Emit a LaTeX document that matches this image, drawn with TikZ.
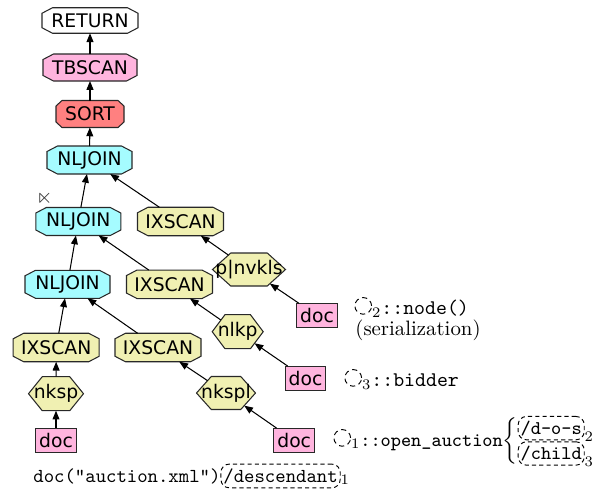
\documentclass[tikz,border=0pt]{standalone}
\usepackage{amssymb}
\usepackage{fontspec}
\newfontfamily\opfont{DejaVu Sans}
\usetikzlibrary{arrows.meta}
\makeatletter
\pgfkeys{/pgf/gv cx/.initial=0pt,/pgf/gv cy/.initial=0pt}
\pgfdeclareshape{gvpoly}{%
  \savedanchor\gvcenter{%
    \pgf@x=.5\wd\pgfnodeparttextbox
    \pgf@y=.5\ht\pgfnodeparttextbox
    \advance\pgf@y by -.5\dp\pgfnodeparttextbox
  }%
  \savedanchor\gvhalf{%
    \pgfmathsetlength\pgf@x{\pgfkeysvalueof{/pgf/minimum width}}%
    \pgfmathsetlength\pgf@y{\pgfkeysvalueof{/pgf/minimum height}}%
    \pgf@x=.5\pgf@x
    \pgf@y=.5\pgf@y
  }%
  \savedanchor\gvcut{%
    \pgfmathsetlength\pgf@x{\pgfkeysvalueof{/pgf/gv cx}}%
    \pgfmathsetlength\pgf@y{\pgfkeysvalueof{/pgf/gv cy}}%
  }%
  \anchor{center}{\gvcenter}%
  \anchor{text}{\pgfpointorigin}%
  \anchor{north}{\gvhalf\pgf@ya=\pgf@y\gvcenter\advance\pgf@y by\pgf@ya}%
  \anchor{south}{\gvhalf\pgf@ya=\pgf@y\gvcenter\advance\pgf@y by-\pgf@ya}%
  \anchor{east}{\gvhalf\pgf@xa=\pgf@x\gvcenter\advance\pgf@x by\pgf@xa}%
  \anchor{west}{\gvhalf\pgf@xa=\pgf@x\gvcenter\advance\pgf@x by-\pgf@xa}%
  \backgroundpath{%
    \gvhalf\edef\gva{\strip@pt\pgf@x}\edef\gvb{\strip@pt\pgf@y}%
    \gvcut\edef\gvcx{\strip@pt\pgf@x}\edef\gvcy{\strip@pt\pgf@y}%
    \gvcenter\edef\gvox{\strip@pt\pgf@x}\edef\gvoy{\strip@pt\pgf@y}%
    \pgfpathmoveto{\pgfpoint{\gvox+\gva-\gvcx}{\gvoy+\gvb}}%
    \pgfpathlineto{\pgfpoint{\gvox+\gva}{\gvoy+\gvb-\gvcy}}%
    \pgfpathlineto{\pgfpoint{\gvox+\gva}{\gvoy-\gvb+\gvcy}}%
    \pgfpathlineto{\pgfpoint{\gvox+\gva-\gvcx}{\gvoy-\gvb}}%
    \pgfpathlineto{\pgfpoint{\gvox-\gva+\gvcx}{\gvoy-\gvb}}%
    \pgfpathlineto{\pgfpoint{\gvox-\gva}{\gvoy-\gvb+\gvcy}}%
    \pgfpathlineto{\pgfpoint{\gvox-\gva}{\gvoy+\gvb-\gvcy}}%
    \pgfpathlineto{\pgfpoint{\gvox-\gva+\gvcx}{\gvoy+\gvb}}%
    \pgfpathclose
  }%
  \anchorborder{%
    \edef\gvdx{\strip@pt\pgf@x}\edef\gvdy{\strip@pt\pgf@y}%
    \gvhalf\edef\gva{\strip@pt\pgf@x}\edef\gvb{\strip@pt\pgf@y}%
    \gvcut\edef\gvcx{\strip@pt\pgf@x}\edef\gvcy{\strip@pt\pgf@y}%
    \pgfmathsetmacro\gvm{max(max(abs(\gvdx),abs(\gvdy)),0.001)}%
    \pgfmathsetmacro\gvnx{\gvdx/\gvm}%
    \pgfmathsetmacro\gvny{\gvdy/\gvm}%
    \pgfmathsetmacro\gvlen{veclen(\gvnx,\gvny)}%
    \pgfmathsetmacro\gvux{abs(\gvnx)/\gvlen}%
    \pgfmathsetmacro\gvuy{abs(\gvny)/\gvlen}%
    \pgfmathsetmacro\gvta{min(\gva/max(\gvux,0.01),\gvb/max(\gvuy,0.01))}%
    \pgfmathsetmacro\gvtb{(\gva/\gvcx+\gvb/\gvcy-1)/max(\gvux/\gvcx+\gvuy/\gvcy,0.001)}%
    \pgfmathsetmacro\gvt{min(\gvta,\gvtb)}%
    \pgfmathsetmacro\gvrx{\gvt*\gvnx/\gvlen}%
    \pgfmathsetmacro\gvry{\gvt*\gvny/\gvlen}%
    \gvcenter
    \advance\pgf@x by \gvrx pt
    \advance\pgf@y by \gvry pt
  }%
}
\makeatother
\newcommand\pxu{0.48pt}
\newcommand\dcirc{\tikz[baseline={(0pt,-3.9pt)}]\draw[line width=0.45pt,dash pattern=on 2.5pt off 1.8pt] (0pt,0pt) circle[radius=4pt];}
\newcommand\dbox[1]{\tikz[baseline=(dbx.base)]\node[draw,dash pattern=on 2pt off 1.5pt,rounded corners=4pt,inner xsep=1.2pt,inner ysep=2pt,line width=0.45pt] (dbx) {\texttt{#1}};}
\definecolor{cpink}{RGB}{255,180,222}
\definecolor{csort}{RGB}{255,128,128}
\definecolor{ccyan}{RGB}{165,252,255}
\definecolor{cyel}{RGB}{240,240,178}
\definecolor{cedge}{RGB}{40,40,40}
\tikzset{
  opbase/.style={shape=gvpoly, draw=cedge, line width=0.5pt, inner sep=0pt, font=\opfont\fontsize{9}{10}\selectfont},
  octo/.style={opbase, /pgf/gv cx=10.5*\pxu, /pgf/gv cy=5.5*\pxu, minimum height=27*\pxu},
  sortst/.style={opbase, fill=csort, /pgf/gv cx=6*\pxu, /pgf/gv cy=5.5*\pxu, minimum height=27*\pxu, minimum width=68*\pxu},
  nlj/.style={octo, fill=ccyan, minimum width=85*\pxu, minimum height=28*\pxu},
  ixs/.style={octo, fill=cyel, minimum width=86*\pxu, minimum height=28.5*\pxu},
  hexn/.style 2 args={opbase, fill=cyel, minimum width=#1*\pxu, minimum height=#2*\pxu, /pgf/gv cx=#1*\pxu/4, /pgf/gv cy=#2*\pxu/2},
  docst/.style={rectangle, draw=cedge, fill=cpink, line width=0.5pt, inner sep=0pt, font=\opfont\fontsize{9}{10}\selectfont, minimum width=40.5*\pxu, minimum height=23.5*\pxu},
  arr/.style={draw=black, line width=0.5pt, -{Triangle[length=4.2pt,width=3.3pt]}},
  lbl/.style={anchor=base west, inner sep=0pt},
}
\begin{document}
\begin{tikzpicture}[x=0.48pt,y=-0.48pt]
\useasboundingbox (0,0) rectangle (610,496);
% operator nodes
\node[octo, fill=white, minimum width=96*\pxu, minimum height=25.5*\pxu] (ret) at (90,20.5) {RETURN};
\node[octo, fill=cpink, minimum width=94*\pxu] (tbs) at (90,67.5) {TBSCAN};
\node[sortst] (sort) at (90,114) {SORT};
\node[nlj] (nl1) at (89.5,160) {NLJOIN};
\node[nlj] (nl2) at (78.3,221.5) {NLJOIN};
\node[ixs] (ix1) at (180.5,221.5) {IXSCAN};
\node[hexn={73}{33}] (pn) at (249,269.5) {p|nvkls};
\node[nlj] (nl3) at (67.5,284.3) {NLJOIN};
\node[ixs] (ix2) at (169.5,284.3) {IXSCAN};
\node[docst] (doc1) at (317,315.5) {doc};
\node[hexn={51}{34}] (nlkp) at (237.7,331.7) {nlkp};
\node[ixs] (ix3) at (56.2,347.5) {IXSCAN};
\node[ixs] (ix4) at (158,347.5) {IXSCAN};
\node[docst] (doc2) at (305.5,378.3) {doc};
\node[hexn={55}{34}] (nksp) at (56,393.7) {nksp};
\node[hexn={59}{33}] (nkspl) at (226,393) {nkspl};
\node[docst] (doc3) at (56,440.3) {doc};
\node[docst] (doc4) at (294.2,440.3) {doc};
% semijoin marker
\node[text=black!80, inner sep=0pt] (sj) at (44.5,198.5) {$\ltimes$};
% connectors
\draw[arr] (tbs) -- (ret);
\draw[arr] (sort) -- (tbs);
\draw[arr] (nl1) -- (sort);
\draw[arr] (nl2) -- (nl1);
\draw[arr] (ix1) -- (nl1);
\draw[arr] (nl3) -- (nl2);
\draw[arr] (ix2) -- (nl2);
\draw[arr] (pn) -- (ix1);
\draw[arr] (doc1) -- (pn);
\draw[arr] (ix3) -- (nl3);
\draw[arr] (ix4) -- (nl3);
\draw[arr] (nlkp) -- (ix2);
\draw[arr] (doc2) -- (nlkp);
\draw[arr] (nksp) -- (ix3);
\draw[arr] (nkspl) -- (ix4);
\draw[arr] (doc3) -- (nksp);
\draw[arr] (doc4) -- (nkspl);
% labels
\node[lbl] (la) at (354,314) {\dcirc$_2$\texttt{::node()}};
\node[lbl] (lb) at (355,335) {(serialization)};
\node[lbl] (lc) at (344,386) {\dcirc$_3$\texttt{::bidder}};
\node[lbl] (ld) at (333,446) {\fontsize{9.3}{11}\selectfont\dcirc$_1$\texttt{::open\_auction}$\left\{\begin{array}{@{}l@{}}\mbox{\dbox{/d-o-s}}_2\\\mbox{\dbox{/child}}_3\end{array}\right.$};
\node[lbl] (le) at (33,482) {\fontsize{9.5}{11}\selectfont\texttt{doc("auction.xml")}\dbox{/descendant}$_1$};
\end{tikzpicture}
\end{document}
